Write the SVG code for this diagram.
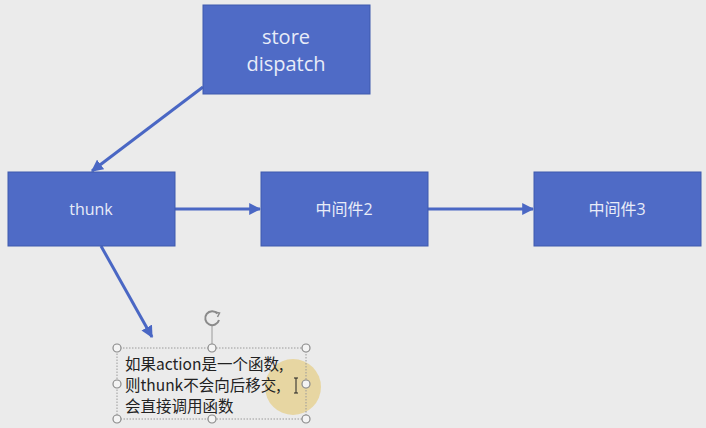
<svg xmlns="http://www.w3.org/2000/svg" width="706" height="428" viewBox="0 0 706 428">
<defs>
<marker id="ah" viewBox="0 0 10 10" refX="9" refY="5" markerWidth="4" markerHeight="4" markerUnits="strokeWidth" orient="auto">
<path d="M0,0 L10,5 L0,10 Z" fill="#4a67c4"/>
</marker>
<style>
.box{fill:#4f6bc6;stroke:#3f5aae;stroke-width:1}
.lbl{font-family:"Open Sans","Noto Sans","Noto Sans CJK SC",sans-serif;fill:#e8ecf8;text-anchor:middle}
.conn{stroke:#4a67c4;stroke-width:3;fill:none;marker-end:url(#ah)}
.note{font-family:"Noto Sans CJK SC","Noto Sans",sans-serif;font-size:15.5px;fill:#222}
.hdl{fill:#f4f4f4;stroke:#8a8a8a;stroke-width:1.2}
</style>
</defs>
<rect x="0" y="0" width="706" height="428" fill="#ebebeb"/>
<g id="connectors">
<line class="conn" x1="203" y1="87" x2="92" y2="171"/>
<line class="conn" x1="175" y1="209" x2="260" y2="209"/>
<line class="conn" x1="428" y1="209" x2="533" y2="209"/>
<line class="conn" x1="101" y1="246" x2="152" y2="337"/>
</g>
<g id="store">
<rect class="box" x="203" y="5" width="167" height="89"/>
<text class="lbl" x="286" y="44" font-size="20">store</text>
<text class="lbl" x="286" y="71" font-size="20">dispatch</text>
</g>
<g id="thunk">
<rect class="box" x="8" y="172" width="167" height="74"/>
<text class="lbl" x="91" y="215" font-size="16">thunk</text>
</g>
<g id="mw2">
<rect class="box" x="261" y="172" width="167" height="74"/>
<text class="lbl" x="344" y="215" font-size="16">中间件2</text>
</g>
<g id="mw3">
<rect class="box" x="534" y="172" width="167" height="74"/>
<text class="lbl" x="617" y="215" font-size="16">中间件3</text>
</g>
<g id="note">
<circle cx="293" cy="387" r="28" fill="#e6cf8a" opacity="0.75"/>
<rect x="117" y="348" width="189" height="71" fill="none" stroke="#9a9a9a" stroke-width="1" stroke-dasharray="1.5 1.5"/>
<line x1="212" y1="326" x2="212" y2="348" stroke="#9a9a9a" stroke-width="1"/>
<path d="M217.5,313.5 A7,7 0 1 0 219,320" fill="none" stroke="#8a8a8a" stroke-width="2"/>
<path d="M215,312 L219.5,313 L217.5,317" fill="none" stroke="#8a8a8a" stroke-width="1.5"/>
<text class="note" x="125" y="370">如果action是一个函数,</text>
<text class="note" x="125" y="391">则thunk不会向后移交,</text>
<text class="note" x="125" y="412">会直接调用函数</text>
<path d="M294,378 L298,378 M296,378 L296,393 M294,393 L298,393" stroke="#222" stroke-width="1"/>
<circle class="hdl" cx="117" cy="348" r="4"/>
<circle class="hdl" cx="212" cy="348" r="4"/>
<circle class="hdl" cx="306" cy="348" r="4"/>
<circle class="hdl" cx="117" cy="384" r="4"/>
<circle class="hdl" cx="306" cy="384" r="4"/>
<circle class="hdl" cx="117" cy="419" r="4"/>
<circle class="hdl" cx="212" cy="419" r="4"/>
<circle class="hdl" cx="306" cy="419" r="4"/>
</g>
</svg>
